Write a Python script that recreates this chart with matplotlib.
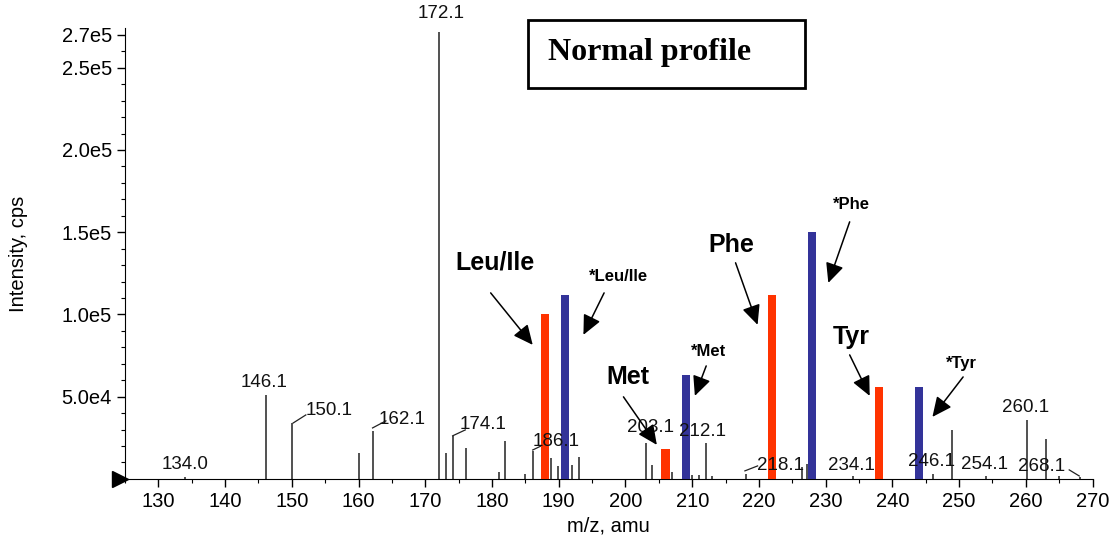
import matplotlib
matplotlib.use("Agg")
import matplotlib.pyplot as plt
from matplotlib.patches import Rectangle
from matplotlib.ticker import FixedLocator, MultipleLocator

# ── Spectrum (black stick peaks) ─────────────────────────────────────────────
peak_mz = [134.0, 146.1, 150.1, 160.0, 162.1, 172.1, 173.1, 174.1, 176.1,
           181.0, 182.0, 185.0, 186.1, 188.9, 189.9, 192.0, 193.0, 203.1,
           204.0, 207.0, 210.0, 211.0, 212.1, 213.0, 218.1, 226.5, 227.2,
           234.1, 246.1, 249.0, 254.1, 260.1, 263.0, 265.0, 268.1]
peak_int = [1000, 51000, 34000, 16000, 29000, 272000, 16000, 26000, 19000,
            4000, 23000, 3000, 17000, 13000, 8000, 8500, 13500, 22000,
            8500, 4000, 2500, 2500, 22000, 2000, 3000, 7000, 9000,
            2000, 3000, 30000, 2000, 36000, 24000, 2000, 1000]

# ── Highlighted amino acid peaks (native in red, labelled in blue) ───────────
native_mz = [188, 206, 222, 238]
native_int = [100000, 18000, 112000, 56000]
label_mz = [191, 209, 228, 244]
label_int = [112000, 63000, 150000, 56000]

# ── Peak annotations: text, text position, optional leader line ──────────────
peak_labels = ["172.1", "146.1", "150.1", "162.1", "134.0", "174.1", "186.1",
               "203.1", "212.1", "218.1", "234.1", "246.1", "254.1", "260.1",
               "268.1"]
peak_label_xy = [(172.45, 283000), (145.8, 58400), (155.6, 41400),
                 (166.6, 35900), (134.0, 8500), (178.7, 32800),
                 (189.6, 22500), (203.8, 31000), (211.6, 28600),
                 (223.3, 7900), (233.9, 7900), (245.8, 10300),
                 (253.8, 8500), (260.0, 43200), (262.3, 7300)]
leader_lines = [((150.2, 34000), (152.1, 38900)),
                ((162.1, 31000), (164.1, 35300)),
                ((174.1, 26200), (176.0, 29800)),
                ((186.1, 17600), (188.0, 21300)),
                ((217.9, 4900), (219.8, 7900)),
                ((266.5, 5500), (268.0, 1800))]

# ── Amino acid callouts: name, text pos, arrow tail, arrow head, size ────────
aa_names = ["Leu/Ile", "*Leu/Ile", "Met", "*Met", "Phe", "*Phe", "Tyr", "*Tyr"]
aa_text_xy = [(180.4, 131400), (198.9, 122900), (200.4, 62000),
              (212.5, 77300), (215.9, 142300), (233.9, 166700),
              (233.9, 86400), (250.3, 70000)]
aa_tail = [(179.8, 113100), (196.8, 113100), (199.7, 49900), (212.1, 68700),
           (216.5, 131400), (233.6, 156300), (233.6, 75400), (250.6, 62000)]
aa_head = [(186.1, 81500), (193.7, 87600), (204.7, 20700), (210.4, 50500),
           (219.8, 93700), (230.4, 119200), (236.6, 50500), (246.0, 37700)]
aa_size = [18, 12, 18, 12, 18, 12, 18, 12]

yticks = [50000, 100000, 150000, 200000, 250000, 270000]
ytick_labels = ["5.0e4", "1.0e5", "1.5e5", "2.0e5", "2.5e5", "2.7e5"]

RED = "#FF3300"
BLUE = "#333399"

plt.rcParams["font.family"] = ["Liberation Sans", "DejaVu Sans"]

fig = plt.figure(figsize=(11.16, 5.43), dpi=100)
ax = fig.add_axes([0.112, 0.118, 0.867, 0.83])

ax.vlines(peak_mz, 0, peak_int, color="#222222", lw=1.1)
ax.bar(native_mz, native_int, width=1.2, color=RED, zorder=3)
ax.bar(label_mz, label_int, width=1.2, color=BLUE, zorder=3)

for txt, (x, y) in zip(peak_labels, peak_label_xy):
    ax.text(x, y, txt, ha="center", va="center", fontsize=13.5,
            color="#111111", clip_on=False)
for (x0, y0), (x1, y1) in leader_lines:
    ax.plot([x0, x1], [y0, y1], color="#222222", lw=0.9)

for name, txy, tail, head, fs in zip(aa_names, aa_text_xy, aa_tail, aa_head, aa_size):
    ax.text(txy[0], txy[1], name, ha="center", va="center", fontsize=fs,
            fontweight="bold")
    ax.annotate("", xy=head, xytext=tail,
                arrowprops=dict(arrowstyle="-|>,head_length=0.6,head_width=0.28",
                                color="k", lw=1.1, mutation_scale=20,
                                shrinkA=0, shrinkB=0))

ax.set_xlim(125, 270)
ax.set_ylim(0, 274000)
ax.xaxis.set_major_locator(MultipleLocator(10))
ax.xaxis.set_minor_locator(MultipleLocator(5))
ax.yaxis.set_major_locator(FixedLocator(yticks))
ax.set_yticklabels(ytick_labels)
ax.yaxis.set_minor_locator(MultipleLocator(10000))
ax.tick_params(axis="both", which="major", labelsize=14.5, length=6, width=1)
ax.tick_params(axis="both", which="minor", length=3, width=0.8)
for s in ["top", "right"]:
    ax.spines[s].set_visible(False)
ax.set_xlabel("m/z, amu", fontsize=14.5, labelpad=4)
ax.set_ylabel("Intensity, cps", fontsize=14.5, labelpad=24)

# start-of-scan marker at the origin
ax.plot([124.2], [0], marker=">", color="k", markersize=11, clip_on=False)

# "Normal profile" box
fig.patches.append(Rectangle((0.473, 0.838), 0.248, 0.125, fill=False,
                             lw=2, ec="k", transform=fig.transFigure))
fig.text(0.491, 0.904, "Normal profile", ha="left", va="center",
         fontsize=23, fontweight="bold", family="Liberation Serif")

plt.savefig("out.png", dpi=100)
